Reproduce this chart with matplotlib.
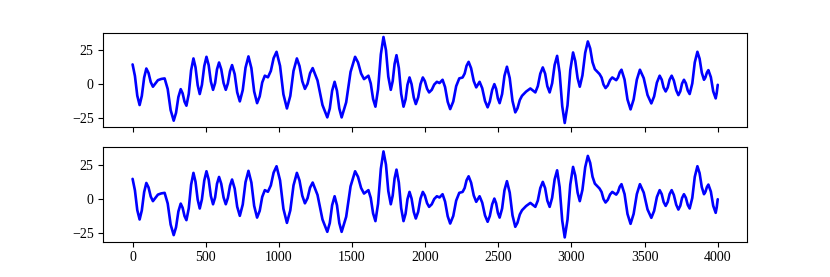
import matplotlib
matplotlib.use('Agg')
import matplotlib.pyplot as plt

plt.rcParams['font.family'] = ['Liberation Serif', 'DejaVu Serif']
plt.rcParams['font.size'] = 10

# значения (отсчёт / амплитуда)
t = [0, 16, 32, 48, 63, 79, 94, 109, 124, 139, 156, 173, 196, 219, 240, 260,
     281, 297, 313, 329, 342, 355, 368, 384, 400, 416, 430, 445, 459, 474, 490,
     505, 520, 535, 550, 564, 577, 591, 606, 622, 637, 651, 666, 680, 698, 715,
     733, 753, 772, 792, 812, 831, 851, 869, 886, 904, 925, 945, 964, 984, 1008,
     1031, 1055, 1078, 1100, 1123, 1141, 1160, 1178, 1196, 1213, 1231, 1264,
     1298, 1331, 1348, 1364, 1381, 1397, 1413, 1429, 1460, 1490, 1521, 1541,
     1562, 1582, 1612, 1628, 1644, 1660, 1678, 1697, 1715, 1732, 1748, 1765,
     1778, 1791, 1804, 1820, 1836, 1852, 1866, 1879, 1893, 1907, 1922, 1936,
     1952, 1968, 1984, 1998, 2013, 2027, 2045, 2062, 2080, 2098, 2119, 2136,
     2154, 2171, 2192, 2212, 2233, 2256, 2270, 2283, 2297, 2314, 2332, 2349,
     2372, 2390, 2409, 2427, 2442, 2458, 2473, 2485, 2497, 2509, 2526, 2542,
     2559, 2578, 2597, 2616, 2631, 2647, 2662, 2690, 2719, 2753, 2770, 2787,
     2804, 2820, 2835, 2851, 2868, 2885, 2902, 2919, 2937, 2954, 2973, 2992,
     3011, 3026, 3042, 3057, 3075, 3094, 3112, 3128, 3144, 3160, 3192, 3206,
     3219, 3233, 3248, 3264, 3279, 3306, 3318, 3330, 3342, 3363, 3383, 3404,
     3425, 3447, 3468, 3494, 3520, 3546, 3565, 3584, 3603, 3617, 3630, 3644,
     3658, 3671, 3685, 3700, 3716, 3731, 3744, 3756, 3769, 3782, 3795, 3808,
     3826, 3843, 3861, 3876, 3891, 3906, 3916, 3926, 3936, 3953, 3969, 3986,
     3993, 4000]
sig = [14.5, 6.0, -8.5, -15.4, -8.7, 4.8, 11.5, 8.2, 1.5, -1.9, 0.5, 2.9, 3.8,
       4.2, -3.6, -19.1, -26.9, -21.1, -9.5, -3.7, -6.8, -12.9, -15.9, -7.2,
       10.2, 18.9, 12.4, -0.8, -7.3, -0.5, 13.3, 20.1, 14.0, 1.9, -4.2, 0.8,
       10.9, 15.9, 10.9, 0.8, -4.2, 0.4, 9.5, 14.0, 7.3, -6.0, -12.7, -4.4,
       12.1, 20.4, 11.8, -5.4, -14.0, -9.0, 1.2, 6.2, 5.0, 9.7, 19.1, 23.8,
       13.4, -7.5, -17.9, -8.7, 9.7, 18.9, 13.3, 2.1, -3.5, 0.3, 8.0, 11.8,
       2.7, -15.4, -24.5, -18.0, -4.9, 1.7, -4.9, -18.0, -24.5, -13.4, 9.0,
       20.1, 16.0, 7.8, 3.7, 6.2, 0.5, -10.9, -16.6, -3.8, 21.9, 34.7, 25.0,
       5.5, -4.2, 2.2, 14.9, 21.3, 11.8, -7.1, -16.6, -11.2, -0.5, 4.9, 0.0,
       -9.8, -14.7, -9.8, 0.0, 4.9, 2.2, -3.4, -6.1, -4.2, -0.3, 1.7, 0.8,
       3.2, -2.2, -13.0, -18.4, -12.8, -1.5, 4.2, 4.9, 7.8, 13.5, 16.4, 11.7,
       2.3, -2.4, 1.7, -3.0, -12.4, -17.1, -12.8, -4.3, 0.0, -3.5, -10.5,
       -14.0, -7.3, 6.1, 12.8, 4.4, -12.4, -20.8, -17.8, -11.7, -8.6, -5.5,
       -3.2, -6.1, -1.5, 7.7, 12.3, 7.7, -1.5, -6.1, 0.6, 14.1, 20.8, 8.5,
       -16.3, -28.6, -15.6, 10.3, 23.3, 17.0, 4.4, -1.9, 6.4, 23.1, 31.4,
       26.3, 16.1, 11.0, 7.4, 4.8, -0.3, -2.9, -1.0, 3.0, 4.9, 2.9, 4.8, 8.7,
       10.6, 3.3, -11.3, -18.6, -11.3, 3.3, 10.6, 4.4, -8.0, -14.2, -9.1,
       1.1, 6.2, 3.3, -2.5, -5.4, -2.5, 3.3, 6.2, 2.6, -4.5, -8.1, -5.3, 0.4,
       3.2, 0.6, -4.7, -7.3, 0.5, 16.0, 23.8, 18.7, 8.4, 3.2, 5.0, 8.5, 10.3,
       5.1, -5.3, -10.5, -6.5, -0.5]

xticks = [0, 500, 1000, 1500, 2000, 2500, 3000, 3500, 4000]
yticks = [-25, 0, 25]

fig, axs = plt.subplots(2, 1, sharex=True, figsize=(8.3, 2.77), dpi=100)
fig.subplots_adjust(left=0.1245, right=0.9, top=0.882, bottom=0.1274, hspace=0.21)

for ax in axs:
    ax.plot(t, sig, color='b', lw=1.9, solid_joinstyle='round', solid_capstyle='round')
    ax.set_yticks(yticks)
    ax.set_xticks(xticks)

fig.savefig('out.png', dpi=100)
